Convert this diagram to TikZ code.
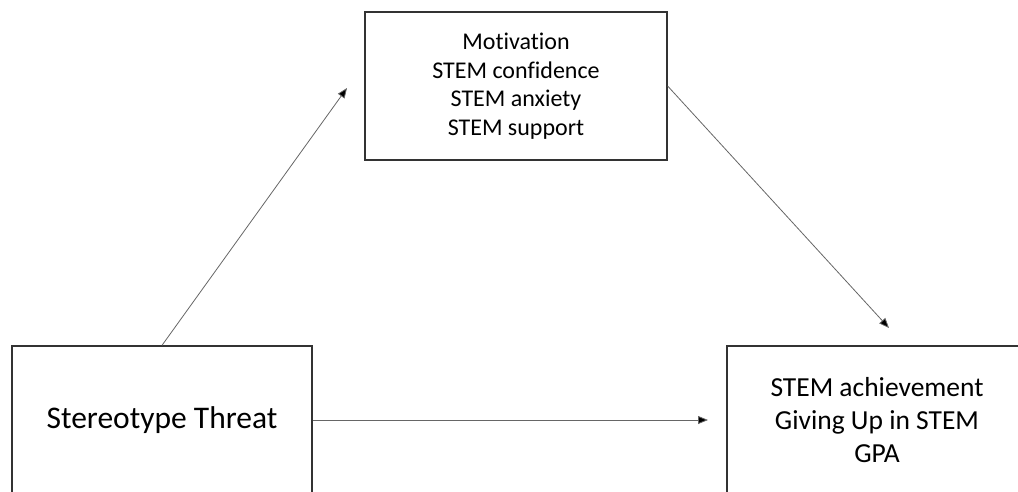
\documentclass[tikz,border=0pt]{standalone}
\usepackage{fontspec}
\setmainfont[Ligatures={TeX,NoCommon}]{Carlito}
\usetikzlibrary{arrows.meta}
\begin{document}
\begin{tikzpicture}[x=1pt,y=-1pt,
  box/.style={draw=black!80,line width=1.3pt,minimum width=300pt,minimum height=148pt,align=center,inner sep=0pt},
  link/.style={draw=black!60,line width=0.8pt,-{Triangle[length=10pt,width=8pt,fill=black]}}]
\useasboundingbox (0,0) rectangle (1018,491);
\clip (0,0) rectangle (1018,491);
\node[box,minimum width=302pt,font=\fontsize{24}{28.5}\selectfont] (med) at (516,86) {Motivation\\STEM confidence\\STEM anxiety\\STEM support};
\node[box,font=\fontsize{31.5}{36}\selectfont] (threat) at (162,420) {Stereotype Threat};
\node[box,font=\fontsize{27.5}{33}\selectfont] (out) at (877,420) {STEM achievement\\Giving Up in STEM\\GPA};
\coordinate (a1) at (347,88);\coordinate (a2) at (889,328);\coordinate (a3) at (708,420);
\draw[link] (threat.north) -- (a1);\draw[link] (med.east) -- (a2);\draw[link] (threat.east) -- (a3);
\end{tikzpicture}
\end{document}
